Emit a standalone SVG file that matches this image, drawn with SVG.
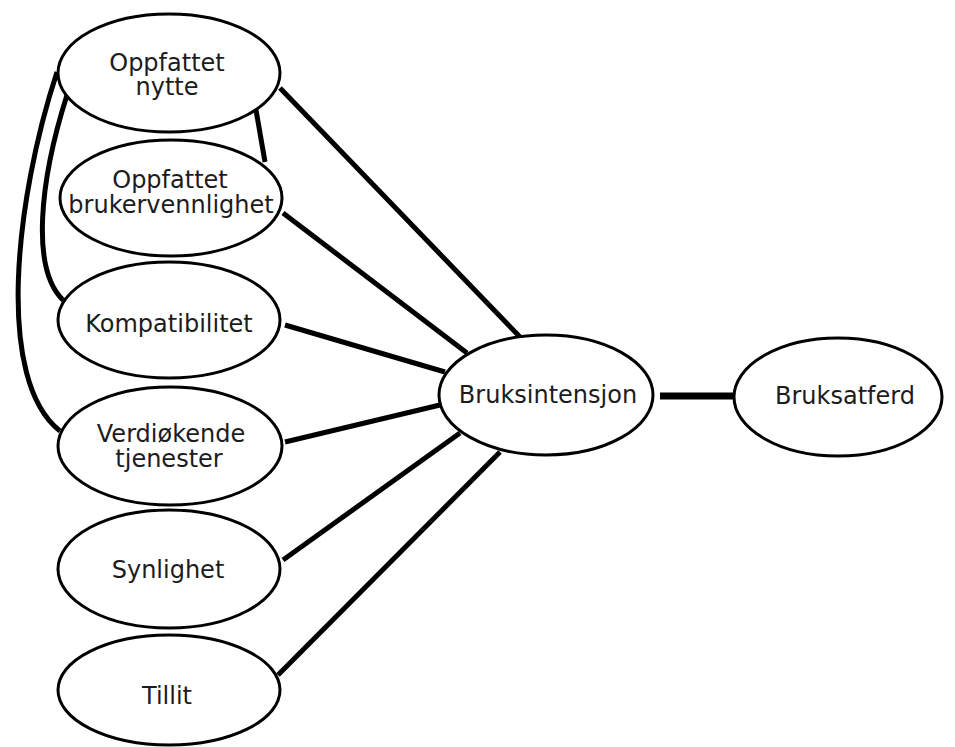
<svg xmlns="http://www.w3.org/2000/svg" width="955" height="747" viewBox="0 0 955 747">
  <style>
    .node ellipse { fill: #ffffff; stroke: #000000; stroke-width: 3; }
    .node text { font-family: "DejaVu Sans", Verdana, sans-serif; font-size: 24px; fill: #1c1c1c; text-anchor: middle; }
    .edge { stroke: #000000; stroke-width: 5; fill: none; stroke-linecap: butt; }
    .edge-main { stroke-width: 7; }
  </style>
  <rect width="955" height="747" fill="#ffffff"/>

  <!-- connectors -->
  <g id="connectors">
    <path class="edge" d="M57 72 C 15 200, -5 380, 60 431"/>
    <path class="edge" d="M67 95 C 40 180, 30 270, 64 301"/>
    <line class="edge" x1="256" y1="110" x2="265" y2="162"/>
    <line class="edge" x1="280" y1="88" x2="520" y2="337"/>
    <line class="edge" x1="283" y1="213" x2="467" y2="353"/>
    <line class="edge" x1="285" y1="325" x2="445" y2="372"/>
    <line class="edge" x1="285" y1="442" x2="440" y2="405"/>
    <line class="edge" x1="283" y1="560" x2="460" y2="433"/>
    <line class="edge" x1="278" y1="675" x2="500" y2="452"/>
    <line class="edge edge-main" x1="660" y1="396" x2="740" y2="396"/>
  </g>

  <g id="node-nytte" class="node">
    <ellipse cx="169" cy="73" rx="111" ry="59"/>
    <text x="167" y="71">Oppfattet</text>
    <text x="167" y="95">nytte</text>
  </g>

  <g id="node-brukervennlighet" class="node">
    <ellipse cx="171" cy="198" rx="111" ry="58"/>
    <text x="170" y="188">Oppfattet</text>
    <text x="171" y="213">brukervennlighet</text>
  </g>

  <g id="node-kompatibilitet" class="node">
    <ellipse cx="169" cy="320" rx="111" ry="58"/>
    <text x="169" y="332">Kompatibilitet</text>
  </g>

  <g id="node-verdiokende" class="node">
    <ellipse cx="170" cy="446" rx="112" ry="59"/>
    <text x="171" y="442">Verdiøkende</text>
    <text x="169" y="467">tjenester</text>
  </g>

  <g id="node-synlighet" class="node">
    <ellipse cx="169" cy="569" rx="111" ry="59"/>
    <text x="168" y="578">Synlighet</text>
  </g>

  <g id="node-tillit" class="node">
    <ellipse cx="169" cy="690" rx="111" ry="55"/>
    <text x="167" y="704">Tillit</text>
  </g>

  <g id="node-bruksintensjon" class="node">
    <ellipse cx="546" cy="395" rx="107" ry="60"/>
    <text x="548" y="403">Bruksintensjon</text>
  </g>

  <g id="node-bruksatferd" class="node">
    <ellipse cx="838" cy="397" rx="104" ry="59"/>
    <text x="845" y="404">Bruksatferd</text>
  </g>
</svg>
